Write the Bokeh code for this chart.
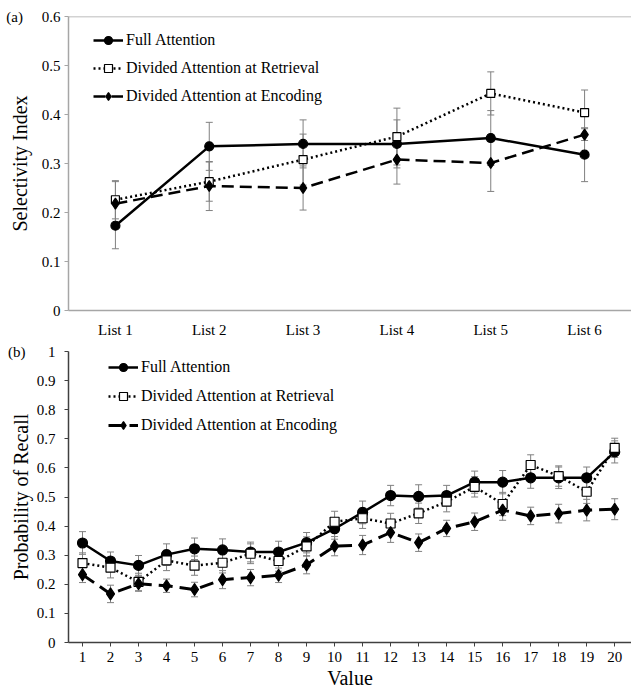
from bokeh.plotting import figure
from bokeh.models import (ColumnDataSource, Whisker, TeeHead, Range1d, FixedTicker,
                          Legend, LegendItem, Span)
from bokeh.layouts import column
from bokeh.embed import file_html
from bokeh.resources import INLINE

FONT = "Liberation Serif"
NBSP = "\u00a0"

# ---------------- data: panel (a) ----------------
panel_a = "(a)"
lists = ["List 1", "List 2", "List 3", "List 4", "List 5", "List 6"]
full_a = [0.173, 0.335, 0.340, 0.340, 0.352, 0.318]
full_a_err = [0.047, 0.049, 0.049, 0.049, 0.056, 0.055]
retr_a = [0.226, 0.263, 0.308, 0.355, 0.443, 0.404]
retr_a_err = [0.039, 0.040, 0.052, 0.058, 0.044, 0.046]
enc_a = [0.218, 0.254, 0.250, 0.308, 0.301, 0.359]
enc_a_err = [0.045, 0.050, 0.045, 0.050, 0.058, 0.012]
yticks_a = ["0", "0.1", "0.2", "0.3", "0.4", "0.5", "0.6"]

# ---------------- data: panel (b) ----------------
panel_b = "(b)"
values_b = list(range(1, 21))
full_b = [0.342, 0.280, 0.265, 0.302, 0.322, 0.318, 0.311, 0.311, 0.343, 0.391,
          0.447, 0.505, 0.502, 0.505, 0.551, 0.551, 0.566, 0.566, 0.566, 0.655]
full_b_err = [0.039, 0.031, 0.034, 0.037, 0.037, 0.038, 0.034, 0.037, 0.035, 0.036,
              0.039, 0.035, 0.040, 0.035, 0.038, 0.040, 0.036, 0.037, 0.037, 0.038]
retr_b = [0.273, 0.257, 0.208, 0.282, 0.264, 0.274, 0.305, 0.280, 0.330, 0.415,
          0.427, 0.409, 0.444, 0.484, 0.535, 0.476, 0.610, 0.572, 0.518, 0.669]
retr_b_err = [0.035, 0.035, 0.030, 0.035, 0.033, 0.035, 0.034, 0.035, 0.033, 0.036,
              0.035, 0.035, 0.035, 0.035, 0.035, 0.040, 0.035, 0.035, 0.040, 0.033]
enc_b = [0.233, 0.167, 0.202, 0.195, 0.182, 0.216, 0.223, 0.231, 0.267, 0.331,
         0.335, 0.378, 0.343, 0.392, 0.415, 0.455, 0.435, 0.443, 0.455, 0.458]
enc_b_err = [0.027, 0.030, 0.026, 0.023, 0.025, 0.031, 0.028, 0.025, 0.031, 0.033,
             0.033, 0.034, 0.030, 0.028, 0.030, 0.035, 0.030, 0.032, 0.037, 0.036]
yticks_b = ["0", "0.1", "0.2", "0.3", "0.4", "0.5", "0.6", "0.7", "0.8", "0.9", "1"]

series_names = ["Full Attention", "Divided Attention at Retrieval", "Divided Attention at Encoding"]

ERR_COLOR = "#808080"


def add_whiskers(p, xs, ys, errs, head):
    src = ColumnDataSource(dict(x=xs,
                                upper=[y + e for y, e in zip(ys, errs)],
                                lower=[y - e for y, e in zip(ys, errs)]))
    w = Whisker(base="x", upper="upper", lower="lower", source=src,
                line_color=ERR_COLOR, line_width=1,
                upper_head=TeeHead(size=head, line_color=ERR_COLOR, line_width=1),
                lower_head=TeeHead(size=head, line_color=ERR_COLOR, line_width=1))
    p.add_layout(w)


def add_series(p, xs, ys, dash, width, marker, msize, fill):
    src = ColumnDataSource(dict(x=xs, y=ys))
    ln = p.line("x", "y", source=src, line_color="black", line_width=width,
                line_dash=dash)
    mk = p.scatter("x", "y", source=src, marker=marker, size=msize,
                   fill_color=fill, line_color="black", line_width=1.2)
    return [ln, mk]


def style_common(p):
    p.xgrid.visible = False
    p.ygrid.visible = False
    p.outline_line_color = None
    p.background_fill_color = "white"
    p.border_fill_color = "white"


def tick_labels(labels, letter, gap):
    # top tick carries the panel letter on the same line, as in the reference
    out = {float(s): s for s in labels}
    out[float(labels[-1])] = letter + NBSP * gap + labels[-1]
    return out


# ================= panel (a) =================
xa = list(range(1, len(lists) + 1))
p1 = figure(width=631, height=340, output_backend="svg", toolbar_location=None,
            x_range=Range1d(0.5, 6.5), y_range=Range1d(0, 0.6),
            min_border_left=64, min_border_right=0, min_border_top=16,
            min_border_bottom=29)
style_common(p1)

add_whiskers(p1, xa, full_a, full_a_err, 7)
add_whiskers(p1, xa, retr_a, retr_a_err, 7)
add_whiskers(p1, xa, enc_a, enc_a_err, 7)

r_full_a = add_series(p1, xa, full_a, "solid", 2.5, "circle", 9, "black")
r_retr_a = add_series(p1, xa, retr_a, "2 3", 2.5, "square", 8, "white")
r_enc_a = add_series(p1, xa, enc_a, "12 6", 2.5, "diamond", 11, "black")

GRAY = "#a6a6a6"
p1.add_layout(Span(location=0.6, dimension="width", line_color=GRAY, line_width=1.5))

ax = p1.xaxis[0]
ax.ticker = FixedTicker(ticks=xa)
ax.major_label_overrides = {x: lab for x, lab in zip(xa, lists)}
ax.axis_line_color = GRAY
ax.axis_line_width = 1.5
ax.major_tick_line_color = None
ax.minor_tick_line_color = None
ax.major_tick_out = 0
ax.major_tick_in = 0
ax.major_label_standoff = 11
ax.major_label_text_font = FONT
ax.major_label_text_font_size = "15px"
ax.major_label_text_color = "black"

ay = p1.yaxis[0]
ay.ticker = FixedTicker(ticks=[float(s) for s in yticks_a])
ay.major_label_overrides = tick_labels(yticks_a, panel_a, 5)
ay.axis_line_color = GRAY
ay.axis_line_width = 1.5
ay.major_tick_line_color = GRAY
ay.major_tick_out = 4
ay.major_tick_in = 0
ay.minor_tick_line_color = None
ay.major_label_standoff = 4
ay.major_label_text_font = FONT
ay.major_label_text_font_size = "15px"
ay.major_label_text_color = "black"
ay.axis_label = "Selectivity Index"
ay.axis_label_text_font = FONT
ay.axis_label_text_font_style = "normal"
ay.axis_label_text_font_size = "20px"
ay.axis_label_text_color = "black"
ay.axis_label_standoff = -28

leg1 = Legend(items=[LegendItem(label=series_names[0], renderers=r_full_a),
                     LegendItem(label=series_names[1], renderers=r_retr_a),
                     LegendItem(label=series_names[2], renderers=r_enc_a)],
              location=(25, 204), padding=0, margin=0, spacing=8,
              glyph_width=30, glyph_height=20, label_height=20,
              label_standoff=3, border_line_color=None, background_fill_alpha=0,
              label_text_font=FONT, label_text_font_size="16px",
              label_text_color="black")
p1.add_layout(leg1)

# ================= panel (b) =================
p2 = figure(width=631, height=352, output_backend="svg", toolbar_location=None,
            x_range=Range1d(0.5, 20.6), y_range=Range1d(0, 1.0),
            min_border_left=68, min_border_right=0, min_border_top=11,
            min_border_bottom=50)
style_common(p2)

add_whiskers(p2, values_b, full_b, full_b_err, 7)
add_whiskers(p2, values_b, retr_b, retr_b_err, 7)
add_whiskers(p2, values_b, enc_b, enc_b_err, 7)

r_full_b = add_series(p2, values_b, full_b, "solid", 2.5, "circle", 10, "black")
r_retr_b = add_series(p2, values_b, retr_b, "2 3", 2.5, "square", 9, "white")
r_enc_b = add_series(p2, values_b, enc_b, "14 7", 3, "diamond", 12, "black")

DARK = "#404040"
bx = p2.xaxis[0]
bx.ticker = FixedTicker(ticks=values_b)
bx.axis_line_color = DARK
bx.axis_line_width = 1.5
bx.major_tick_line_color = DARK
bx.major_tick_out = 4
bx.major_tick_in = 0
bx.minor_tick_line_color = None
bx.major_label_standoff = 5
bx.major_label_text_font = FONT
bx.major_label_text_font_size = "15px"
bx.major_label_text_color = "black"
bx.axis_label = "Value"
bx.axis_label_text_font = FONT
bx.axis_label_text_font_style = "normal"
bx.axis_label_text_font_size = "20px"
bx.axis_label_text_color = "black"
bx.axis_label_standoff = 2

by = p2.yaxis[0]
by.ticker = FixedTicker(ticks=[float(s) for s in yticks_b])
by.major_label_overrides = tick_labels(yticks_b, panel_b, 6)
by.axis_line_color = DARK
by.axis_line_width = 1.5
by.major_tick_line_color = DARK
by.major_tick_out = 4
by.major_tick_in = 0
by.minor_tick_line_color = None
by.major_label_standoff = 9
by.major_label_text_font = FONT
by.major_label_text_font_size = "15px"
by.major_label_text_color = "black"
by.axis_label = "Probability of Recall"
by.axis_label_text_font = FONT
by.axis_label_text_font_style = "normal"
by.axis_label_text_font_size = "20px"
by.axis_label_text_color = "black"
by.axis_label_standoff = -27

leg2 = Legend(items=[LegendItem(label=series_names[0], renderers=r_full_b),
                     LegendItem(label=series_names[1], renderers=r_retr_b),
                     LegendItem(label=series_names[2], renderers=r_enc_b)],
              location=(40, 207), padding=0, margin=0, spacing=9,
              glyph_width=30, glyph_height=20, label_height=20,
              label_standoff=3, border_line_color=None, background_fill_alpha=0,
              label_text_font=FONT, label_text_font_size="16px",
              label_text_color="black")
p2.add_layout(leg2)

layout = column(p1, p2, spacing=0)
open("out.html", "w").write(file_html(layout, INLINE))
